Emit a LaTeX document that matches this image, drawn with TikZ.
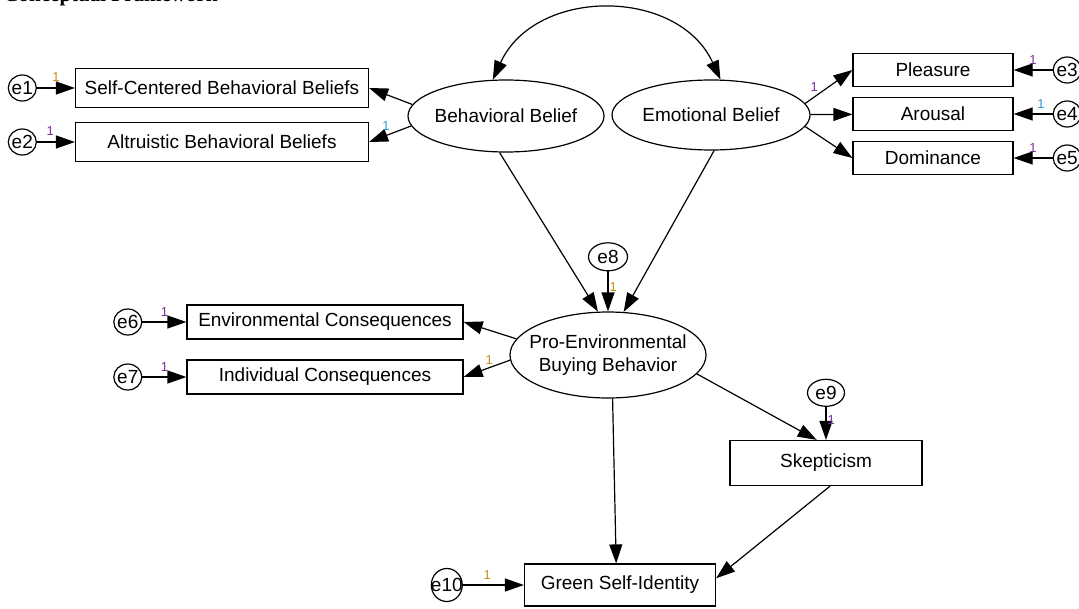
\documentclass[tikz,border=0pt]{standalone}
\usepackage{fontspec}
\setmainfont{Liberation Sans}
\newfontfamily\titlefont{Liberation Serif}
\usetikzlibrary{arrows.meta}
\usetikzlibrary{shapes.geometric}
\usetikzlibrary{positioning}
\definecolor{onepurple}{HTML}{7A2A9A}
\definecolor{oneorange}{HTML}{D08A10}
\definecolor{onecyan}{HTML}{2A98D8}
\tikzset {
  % observed variable
  obs/.style = {
    draw = black,
    line width = 1.2pt,
    rectangle,
    inner sep = 0pt,
    font = \fontsize{19}{23}\selectfont
  },
  % latent variable
  latent/.style = {
    draw = black,
    line width = 1.2pt,
    ellipse,
    inner sep = 0pt,
    align = center,
    font = \fontsize{19}{23}\selectfont
  },
  % error term, the name is put on as a label so it can stick out
  err/.style = {
    draw = black,
    line width = 1.2pt,
    ellipse,
    inner sep = 0pt,
    minimum width = 28pt,
    minimum height = 26pt,
    label = {[font = \fontsize{19}{23}\selectfont, inner sep = 0pt]center:#1}
  },
  reg/.style = {
    draw = black,
    line width = 1.2pt,
    -{Triangle[length = 19pt, width = 13pt]}
  },
  cov/.style = {
    reg,
    {Triangle[length = 19pt, width = 13pt]}-{Triangle[length = 19pt, width = 13pt]}
  },
  % fixed loading
  one/.style = {
    font = \fontsize{13}{15}\selectfont,
    inner sep = 1pt
  }
}

\begin{document}
\begin{tikzpicture}[x = 1pt, y = -1pt]
  \useasboundingbox (0,0) rectangle (1079,608);
  \begin{scope}
  \clip (0,0) rectangle (1079,608);
  \node[anchor = base west, font = \titlefont\bfseries\fontsize{21}{25}\selectfont] (title) at (0,1) {Conceptual Framework};

  \node[obs, minimum width = 293pt, minimum height = 39pt] (sc) at (222,88) {Self-Centered Behavioral Beliefs};
  \node[obs, minimum width = 293pt, minimum height = 39pt] (ac) at (222,142) {Altruistic Behavioral Beliefs};
  \node[err = e1] (e1) [left = 38pt of sc] {};
  \node[err = e2] (e2) [left = 38pt of ac] {};
  \node[latent, minimum width = 196pt, minimum height = 72pt, inner xsep = -3pt] (bb) at (506,116) {Behavioral Belief};
  \node[latent, minimum width = 198pt, minimum height = 70pt] (eb) at (711,115) {Emotional Belief};
  \node[obs, minimum width = 160pt, minimum height = 33pt] (pl) at (933,70) {Pleasure};
  \node[obs, minimum width = 160pt, minimum height = 33pt] (ar) at (933,114) {Arousal};
  \node[obs, minimum width = 160pt, minimum height = 33pt] (dm) at (933,158) {Dominance};
  \node[err = e3] (e3) [right = 39pt of pl] {};
  \node[err = e4] (e4) [right = 39pt of ar] {};
  \node[err = e5] (e5) [right = 39pt of dm] {};

  \node[latent, minimum width = 196pt, minimum height = 86pt, inner xsep = -11pt, inner ysep = -8pt] (pe) at (608,355) {Pro-Environmental\\Buying Behavior};
  \node[err = e8, minimum width = 39pt, minimum height = 28pt] (e8) [above = 40pt of pe] {};
  \node[obs, minimum width = 276pt, minimum height = 34pt] (ec) at (325,322) {Environmental Consequences};
  \node[obs, minimum width = 276pt, minimum height = 34pt] (ic) at (325,377) {Individual Consequences};
  \node[err = e6] (e6) [left = 44pt of ec] {};
  \node[err = e7] (e7) [left = 44pt of ic] {};
  \node[obs, minimum width = 192pt, minimum height = 45pt] (sk) at (826,463) {Skepticism};
  \node[err = e9, minimum width = 37pt, minimum height = 27pt] (e9) [above = 33pt of sk] {};
  \node[obs, minimum width = 191pt, minimum height = 42pt] (gs) at (620,585) {Green Self-Identity};
  \node[err = e10, minimum width = 31pt, minimum height = 33pt] (e10) [left = 61pt of gs] {};

  \draw[reg] (e1) -- node[one, above = 5pt, text = oneorange] {1} (sc);
  \draw[reg] (e2) -- node[one, above = 5pt, pos = 0.35, text = onepurple] {1} (ac);
  \draw[reg] (bb.173) -- (sc.east);
  \draw[reg] (bb.186) -- node[one, above = 3pt, pos = 0.6, text = onecyan] {1} (ac.east);
  \draw[cov] (bb.110) .. controls (535,-13) and (678,-13) .. (eb.75);
  \draw[reg] (eb.7) -- node[one, above left, pos = 0.3, text = onepurple] {1} (pl.west);
  \draw[reg] (eb) -- (ar);
  \draw[reg] (eb.-7) -- (dm.west);
  \draw[reg] (e3) -- node[one, above = 4pt, text = onepurple] {1} (pl);
  \draw[reg] (e4) -- node[one, above = 4pt, pos = 0.3, text = onecyan] {1} (ar);
  \draw[reg] (e5) -- node[one, above = 4pt, text = onepurple] {1} (dm);

  \draw[reg] (bb.-100) -- (pe.103);
  \draw[reg] (eb.-85) -- (pe.70);
  \draw[reg] (e8) -- node[one, right, pos = 0.4, text = oneorange] {1} (pe);
  \draw[reg] (pe.170) -- (ec.east);
  \draw[reg] (pe.183) -- node[one, above = 2pt, pos = 0.45, text = oneorange] {1} (ic.east);
  \draw[reg] (e6) -- node[one, above = 4pt, text = onepurple] {1} (ec);
  \draw[reg] (e7) -- node[one, above = 4pt, text = onepurple] {1} (ic);
  \draw[reg] (pe.-12) -- (sk.112);
  \draw[reg] (e9) -- node[one, right, pos = 0.4, text = onepurple] {1} (sk);
  \draw[reg] (pe.-84) -- (gs.100);
  \draw[reg] (sk.-80) -- (gs.4);
  \draw[reg] (e10) -- node[one, above = 4pt, pos = 0.4, text = oneorange] {1} (gs);
  \end{scope}
\end{tikzpicture}
\end{document}
